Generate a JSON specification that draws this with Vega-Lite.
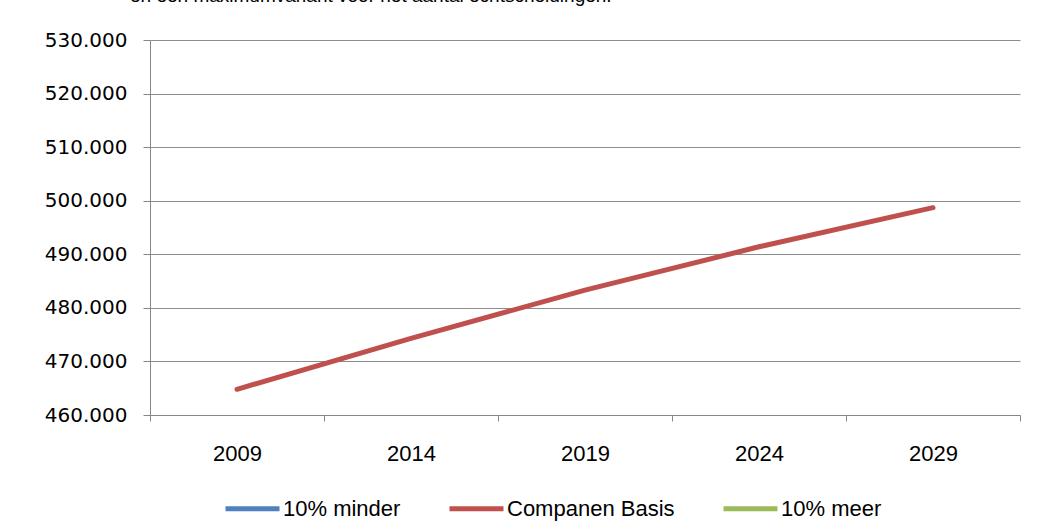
{
  "$schema": "https://vega.github.io/schema/vega-lite/v6.json",
  "width": 870,
  "height": 375,
  "autosize": {"type": "none"},
  "padding": {"left": 150, "top": 40, "right": 34, "bottom": 117},
  "background": "white",
  "title": {
    "text": "en een maximumvariant voor het aantal echtscheidingen.",
    "anchor": "start",
    "frame": "group",
    "font": "Liberation Sans",
    "fontSize": 19,
    "fontWeight": "normal",
    "color": "#000000",
    "dx": -20,
    "offset": 0,
    "baseline": "alphabetic",
    "dy": -9
  },
  "data": {
    "values": [
      {"jaar": 2009, "variant": "Companen Basis", "huishoudens": 464800},
      {"jaar": 2014, "variant": "Companen Basis", "huishoudens": 474300},
      {"jaar": 2019, "variant": "Companen Basis", "huishoudens": 483300},
      {"jaar": 2024, "variant": "Companen Basis", "huishoudens": 491400},
      {"jaar": 2029, "variant": "Companen Basis", "huishoudens": 498700}
    ]
  },
  "mark": {"type": "line", "strokeWidth": 5, "strokeCap": "round", "strokeJoin": "round"},
  "encoding": {
    "x": {
      "field": "jaar",
      "type": "quantitative",
      "scale": {"domain": [2006.5, 2031.5], "nice": false, "zero": false},
      "axis": {
        "title": null,
        "grid": false,
        "values": [2006.5, 2009, 2011.5, 2014, 2016.5, 2019, 2021.5, 2024, 2026.5, 2029, 2031.5],
        "labelExpr": "datum.value % 5 == 4 ? '' + datum.value : ''",
        "tickOpacity": {"condition": {"test": "datum.value % 5 == 4", "value": 0}, "value": 1},
        "tickSize": 6,
        "tickColor": "#868686",
        "domainColor": "#868686",
        "labelFont": "Liberation Sans",
        "labelFontSize": 22,
        "labelColor": "#000000",
        "labelPadding": 22,
        "labelBaseline": "top",
        "labelFlush": false,
        "labelOverlap": false
      }
    },
    "y": {
      "field": "huishoudens",
      "type": "quantitative",
      "scale": {"domain": [460000, 530000], "nice": false, "zero": false},
      "axis": {
        "title": null,
        "values": [460000, 470000, 480000, 490000, 500000, 510000, 520000, 530000],
        "labelExpr": "replace(format(datum.value, ','), ',', '.')",
        "tickSize": 7,
        "tickColor": "#868686",
        "domainColor": "#868686",
        "gridColor": "#8c8c8c",
        "gridWidth": 1,
        "labelFont": "DejaVu Sans",
        "labelFontSize": 20,
        "labelColor": "#000000",
        "labelPadding": 16,
        "labelFlush": false,
        "labelOverlap": false
      }
    },
    "color": {
      "field": "variant",
      "type": "nominal",
      "scale": {
        "domain": ["10% minder", "Companen Basis", "10% meer"],
        "range": ["#4f81bd", "#c0504d", "#9bbb59"]
      },
      "legend": {
        "title": null,
        "orient": "none",
        "direction": "horizontal",
        "legendX": 73,
        "legendY": 439,
        "symbolType": "stroke",
        "symbolSize": 2916,
        "symbolStrokeWidth": 5,
        "labelFont": "Liberation Sans",
        "labelFontSize": 22,
        "labelColor": "#000000",
        "labelOffset": 1,
        "columnPadding": 38,
        "labelLimit": 400
      }
    }
  },
  "config": {
    "view": {"stroke": null}
  }
}
